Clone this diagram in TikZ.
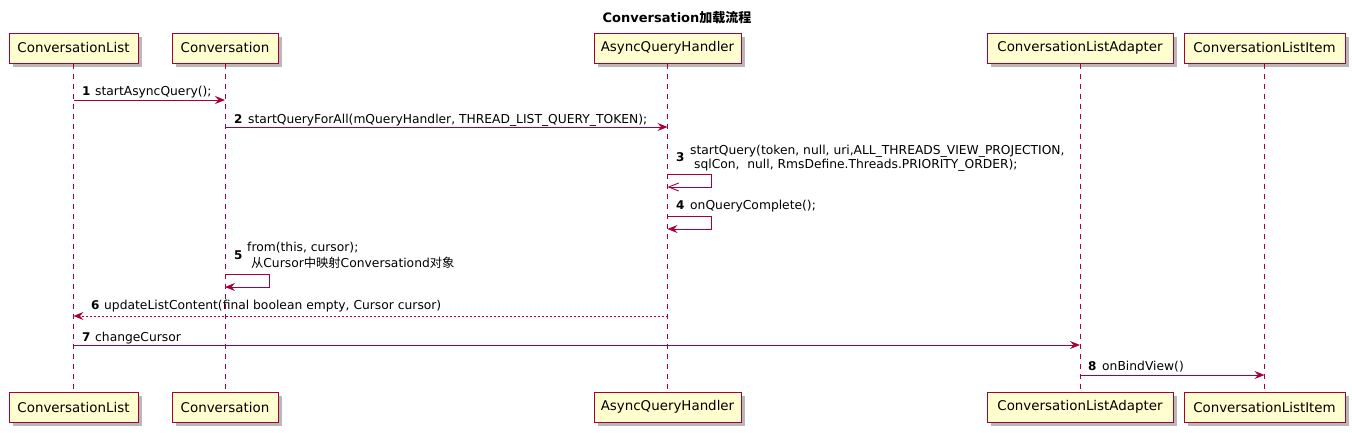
\documentclass[tikz,border=0pt]{standalone}
\usepackage{fontspec}
\setmainfont{DejaVu Sans}
\newfontfamily\cjk{Noto Sans CJK SC}
\usetikzlibrary{arrows.meta,shadows}
\definecolor{pumlred}{HTML}{A80036}
\definecolor{pumlfill}{HTML}{FEFECE}
\tikzset{
  part/.style={draw=pumlred, fill=pumlfill, line width=1pt, minimum height=30pt, inner sep=0pt,
    font=\fontsize{13.4}{15}\selectfont, drop shadow={shadow xshift=4pt, shadow yshift=-4pt, opacity=1, fill=black!28}},
  life/.style={draw=pumlred, line width=0.9pt, dash pattern=on 5pt off 5pt},
  msg/.style={draw=pumlred, line width=0.9pt, -{Stealth[length=10pt,width=8pt,inset=3.5pt]}},
  openmsg/.style={draw=pumlred, line width=0.9pt, -{Straight Barb[length=10pt,width=8pt]}},
  retmsg/.style={msg, dash pattern=on 2pt off 2pt},
  lbl/.style={anchor=base west, inner sep=0pt, font=\fontsize{12.3}{14}\selectfont},
  num/.style={anchor=base west, inner sep=0pt, font=\fontsize{12}{14}\selectfont\bfseries},
}
\begin{document}
\begin{tikzpicture}[x=1pt,y=-1pt]
\useasboundingbox (0,0) rectangle (1352,432);
\node[font=\fontsize{13}{15}\selectfont\bfseries] (title) at (677,18) {Conversation{\cjk\bfseries 加载流程}};
% top participants
\node[part, minimum width=129pt] (clT) at (73.5,48) {ConversationList};
\node[part, minimum width=106pt] (cT) at (225,48) {Conversation};
\node[part, minimum width=147pt] (aT) at (667.5,48) {AsyncQueryHandler};
\node[part, minimum width=186pt] (laT) at (1080,48) {ConversationListAdapter};
\node[part, minimum width=161pt] (liT) at (1264.5,48) {ConversationListItem};
% bottom participants
\node[part, minimum width=129pt] (clB) at (73.5,407) {ConversationList};
\node[part, minimum width=106pt] (cB) at (225,407) {Conversation};
\node[part, minimum width=147pt] (aB) at (667.5,407) {AsyncQueryHandler};
\node[part, minimum width=186pt] (laB) at (1080,407) {ConversationListAdapter};
\node[part, minimum width=161pt] (liB) at (1264.5,407) {ConversationListItem};
% lifelines
\foreach \p in {cl,c,a,la,li}{\draw[life] (\p T.south) -- (\p B.north);}
% 1
\draw[msg] (clT.south |- 0,100) -- (cT.south |- 0,100);
\node[num] (n1) at (82,95) {1};
\node[lbl] (l1) at (95,95) {startAsyncQuery();};
% 2
\draw[msg] (cT.south |- 0,127) -- (aT.south |- 0,127);
\node[num] (n2) at (234,123) {2};
\node[lbl] (l2) at (248,123) {startQueryForAll(mQueryHandler, THREAD\_LIST\_QUERY\_TOKEN);};
% 3
\coordinate (s3a) at (aT.south |- 0,174);
\coordinate (s3b) at (aT.south |- 0,187);
\draw[openmsg] (s3a) -- ++(44,0) |- (s3b);
\node[num] (n3) at (676,161) {3};
\node[lbl] (l3a) at (690,154) {startQuery(token, null, uri,ALL\_THREADS\_VIEW\_PROJECTION,};
\node[lbl] (l3b) at (690,168) {\ sqlCon,\ \ null, RmsDefine.Threads.PRIORITY\_ORDER);};
% 4
\coordinate (s4a) at (aT.south |- 0,216);
\coordinate (s4b) at (aT.south |- 0,229);
\draw[msg] (s4a) -- ++(44,0) |- (s4b);
\node[num] (n4) at (676,209) {4};
\node[lbl] (l4) at (690,209) {onQueryComplete();};
% 5
\coordinate (s5a) at (cT.south |- 0,274);
\coordinate (s5b) at (cT.south |- 0,287);
\draw[msg] (s5a) -- ++(44,0) |- (s5b);
\node[num] (n5) at (234,259) {5};
\node[lbl] (l5a) at (247,251) {from(this, cursor);};
\node[lbl] (l5b) at (247,267) {\ {\cjk 从}Cursor{\cjk 中映射}Conversationd{\cjk 对象}};
% 6
\draw[retmsg] (aT.south |- 0,316) -- (clT.south |- 0,316);
\node[num] (n6) at (91,309) {6};
\node[lbl] (l6) at (104,309) {updateListContent(final boolean empty, Cursor cursor)};
% 7
\draw[msg] (clT.south |- 0,345) -- (laT.south |- 0,345);
\node[num] (n7) at (82,341) {7};
\node[lbl] (l7) at (95,341) {changeCursor};
% 8
\draw[msg] (laT.south |- 0,375) -- (liT.south |- 0,375);
\node[num] (n8) at (1088,370) {8};
\node[lbl] (l8) at (1102,370) {onBindView()};
\end{tikzpicture}
\end{document}
